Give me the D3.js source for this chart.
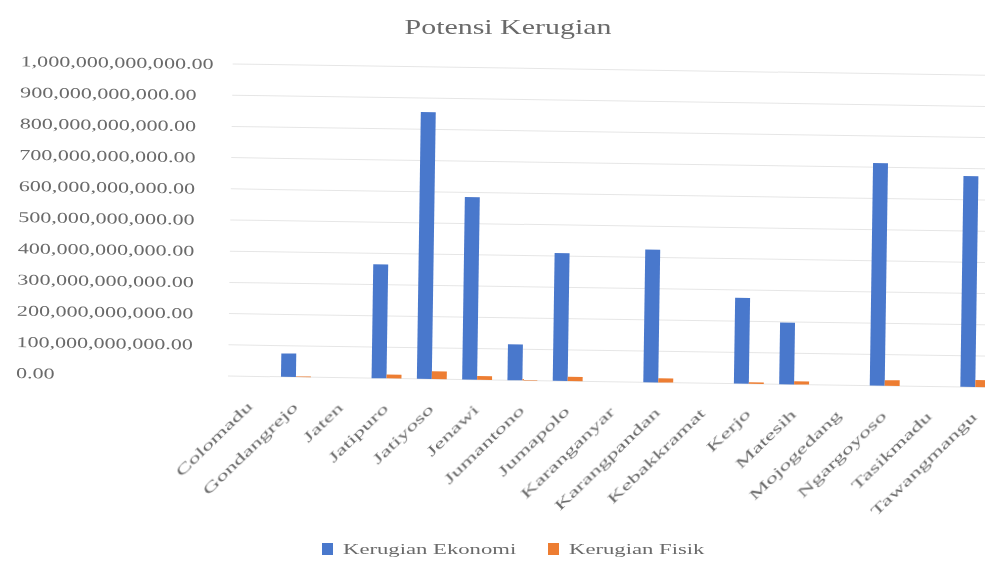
<!DOCTYPE html>
<html>
<head>
<meta charset="utf-8">
<script src="https://cdn.jsdelivr.net/npm/d3@7"></script>
<style>
  html, body { margin: 0; padding: 0; background: #ffffff; }
  svg { display: block; }
  text { font-family: "Liberation Serif", "DejaVu Serif", serif; fill: #6a6a6a; }
</style>
</head>
<body>
<svg id="chart" width="985" height="570"></svg>
<script>
// District names (Kabupaten Karanganyar)
const categories = ["Colomadu", "Gondangrejo", "Jaten", "Jatipuro", "Jatiyoso", "Jenawi",
  "Jumantono", "Jumapolo", "Karanganyar", "Karangpandan", "Kebakkramat", "Kerjo",
  "Matesih", "Mojogedang", "Ngargoyoso", "Tasikmadu", "Tawangmangu"];

// Potential losses, in rupiah
const kerugianEkonomi = [0, 75e9, 0, 365e9, 855e9, 585e9, 115e9, 410e9, 0, 425e9, 0,
  275e9, 198e9, 0, 713e9, 0, 676e9];
const kerugianFisik = [0, 2e9, 0, 12e9, 25e9, 12e9, 4e9, 14e9, 0, 13e9, 0,
  5e9, 10e9, 0, 18e9, 0, 23e9];

const seriesNames = ["Kerugian Ekonomi", "Kerugian Fisik"];
const seriesColors = ["#4a78cc", "#ed7d31"];
const yTicks = [0, 1e11, 2e11, 3e11, 4e11, 5e11, 6e11, 7e11, 8e11, 9e11, 1e12];
const chartTitle = "Potensi Kerugian";

const svg = d3.select("#chart");

// Soft focus applied to the whole drawing
svg.append("defs").append("filter").attr("id", "soft")
  .attr("x", "-5%").attr("y", "-5%").attr("width", "110%").attr("height", "110%")
  .append("feGaussianBlur").attr("stdDeviation", 0.5);
const root = svg.append("g").attr("filter", "url(#soft)");

// Widen a text element horizontally by a factor (glyphs and spacing together)
function stretch(sel, f) {
  sel.each(function () {
    const w = this.getComputedTextLength();
    d3.select(this).attr("textLength", w * f).attr("lengthAdjust", "spacingAndGlyphs");
  });
}

const plotLeft = 228, plotRight = 998, plotTop = 64, plotBottom = 376;

const x0 = d3.scaleBand().domain(categories).range([plotLeft, plotRight])
  .paddingInner(0.34).paddingOuter(0.17);
const x1 = d3.scaleBand().domain([0, 1]).range([0, x0.bandwidth()]);
const y = d3.scaleLinear().domain([0, 1e12]).range([plotBottom, plotTop]);

const fmt = d3.format(",.2f");

// The whole chart body sits slightly tilted on the page
const body = root.append("g")
  .attr("transform", `rotate(0.85, ${plotLeft}, ${plotBottom})`);

// Gridlines
body.append("g").selectAll("line").data(yTicks).join("line")
  .attr("x1", plotLeft).attr("x2", plotRight)
  .attr("y1", d => y(d)).attr("y2", d => y(d))
  .attr("stroke", "#e6e6e6").attr("stroke-width", 1);

// Y-axis labels
const yl = body.append("g").selectAll("text").data(yTicks).join("text")
  .attr("x", 16).attr("y", d => y(d)).attr("dy", "0.35em")
  .attr("font-size", 15)
  .text(d => fmt(d));
stretch(yl, 1.47);

// Bars
const rows = categories.map((c, i) => ({ c, v: [kerugianEkonomi[i], kerugianFisik[i]] }));
const groups = body.append("g").selectAll("g").data(rows).join("g")
  .attr("transform", d => `translate(${x0(d.c)},0)`);
groups.selectAll("rect").data(d => d.v.map((v, k) => ({ v, k }))).join("rect")
  .attr("x", d => x1(d.k)).attr("width", x1.bandwidth())
  .attr("y", d => y(d.v)).attr("height", d => y(0) - y(d.v))
  .attr("fill", d => seriesColors[d.k]);

// X-axis labels, rotated
const xl = body.append("g").selectAll("text").data(categories).join("text")
  .attr("text-anchor", "end")
  .attr("font-size", 14)
  .attr("transform", d => `translate(${x0(d) + x0.bandwidth() / 2 + 3},${plotBottom + 31}) rotate(-45)`)
  .text(d => d);
stretch(xl, 1.72);

// Title
const t = root.append("text").attr("x", 508).attr("y", 34).attr("text-anchor", "middle")
  .attr("font-size", 22).text(chartTitle);
stretch(t, 1.36);

// Legend
const legendItems = [
  { name: seriesNames[0], color: seriesColors[0], x: 322 },
  { name: seriesNames[1], color: seriesColors[1], x: 548 }
];
const lg = root.append("g").selectAll("g").data(legendItems).join("g")
  .attr("transform", d => `translate(${d.x},543)`);
lg.append("rect").attr("width", 11).attr("height", 12).attr("fill", d => d.color);
const lt = lg.append("text").attr("x", 21).attr("y", 11).attr("font-size", 14).text(d => d.name);
stretch(lt, 1.62);
</script>
</body>
</html>
